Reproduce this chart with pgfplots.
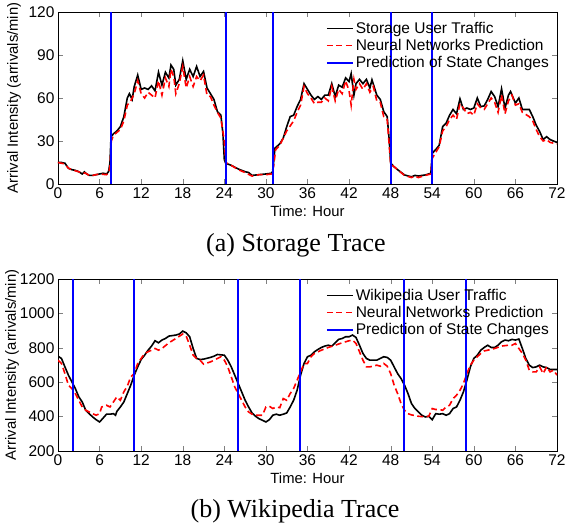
\documentclass[border=0pt]{standalone}
\usepackage{fontspec}
\setmainfont{Liberation Sans}
\newfontfamily\capfont{Liberation Serif}
\usepackage{pgfplots}
\pgfplotsset{compat=1.18}
\newcommand{\sfs}{\fontsize{15.5}{17}\selectfont}
\newcommand{\lfs}{\fontsize{14.8}{17}\selectfont}
\pgfplotsset{
  myax/.style={
    scale only axis, width=499pt, height=172pt,
    xmin=0, xmax=72, xtick={0,6,...,72},
    tick align=inside, tick pos=both,
    major tick length=5pt,
    axis line style={line width=0.9pt},
    tick label style={font=\sfs},
    label style={font=\lfs},
    unbounded coords=jump,
    /pgf/number format/assume math mode=true,
    /pgf/number format/1000 sep={},
    xlabel={Time: Hour},
    ylabel={Arrival Intensity (arrivals/min)},
    xlabel style={at={(axis description cs:0.5,-0.16)}, anchor=center},
    legend cell align=left,
    legend style={draw=none, fill=none, font=\sfs, at={(axis description cs:0.99,0.96)}, anchor=north east, row sep=0.5pt, inner sep=1pt},
    legend image code/.code={\draw[#1] (0pt,0pt) -- (26pt,0pt);},
  },
  myblk/.style={draw=black, line width=1.6pt},
  myrd/.style={draw=red, line width=1.6pt, dash pattern=on 6pt off 3.5pt},
  mybl/.style={draw=blue, line width=2pt},
}
\begin{document}
\begin{tikzpicture}
\useasboundingbox (0,0) rectangle (566pt,-529pt);
\begin{axis}[myax, at={(58pt,-184pt)}, anchor=south west,
  ymin=0, ymax=120, ytick={0,30,...,120},
  ylabel style={at={(axis description cs:-0.088,0.5)}, anchor=center}]
\addplot[myblk] coordinates {
(0,15) (0.5,15) (1,14.5) (1.5,11) (2,10) (2.5,9.5) (3,8.6) (3.5,7) (3.8,8.5) (4,7.5) (4.5,6) (5,6) (5.5,6.5) (6,7) (6.5,7.5) (7,7) (7.3,8.6) (7.5,15) (7.65,33) (8,35) (8.5,37) (9,40) (9.5,47) (10,60) (10.3,63) (10.7,59) (11,68) (11.5,76) (12,66) (12.5,67) (13,66) (13.5,68.5) (14,65) (14.5,78) (15,69) (15.5,78) (16,74) (16.3,83) (16.7,80) (17,69) (17.5,73) (18,86) (18.5,73) (19,80) (19.5,75) (20,82) (20.5,75) (21,78.5) (21.5,67) (22,63) (22.5,59) (23,50.5) (23.5,48) (23.8,35) (24,17) (24.2,14.5) (25,13) (26,10.5) (26.5,9.5) (27,8.6) (27.5,8) (28,6) (29,6.5) (30,7) (30.8,7.5) (31.0,9) (31.3,25) (32,28) (32.5,32) (33,40) (33.5,47) (34,48) (34.5,54) (35,59) (35.5,70) (36,66) (36.5,62) (37,59) (37.5,61) (38,59) (38.5,62) (39,62) (39.5,70) (40,61) (40.5,69) (41,67.5) (41.5,74) (42,71.5) (42.3,77) (42.7,62) (43,70) (43.5,73) (44,70) (44.5,73) (45,67) (45.3,72.7) (46,62) (46.5,59) (47,50.5) (47.5,47) (47.8,30) (48,14.5) (48.5,12) (49,10) (50,6.3) (51,5) (51.5,6) (52,5.6) (53,6.3) (53.8,7.5) (54,21.5) (54.5,24) (55,27) (55.5,40) (56,42.4) (56.5,48) (57,52) (57.5,49) (58,59.4) (58.5,52) (59,53) (59.5,52) (60,53) (60.5,60) (61,54) (61.5,54.5) (62,59) (62.5,64.5) (63,61) (63.5,54) (64,66.4) (64.5,53) (65,62) (65.3,64.5) (66,56.4) (66.5,60) (67,52) (68,52) (68.5,47) (69,41) (69.5,36.6) (70,31) (70.5,33) (71,31) (72,29)};
\addlegendentry{Storage User Traffic}
\addplot[myrd] coordinates {
(0,15) (1,14) (1.5,11) (2,10) (3,8.5) (4,7.5) (4.5,6) (5,6) (6,7) (7,6.5) (7.3,8) (7.5,12) (7.7,30) (8,34) (9,38) (9.5,44) (10,55) (10.5,58) (11,63) (11.5,72) (12,63) (12.5,60) (13,64) (13.5,62) (14,60) (14.5,72) (15,62) (15.5,74) (16,68) (16.3,80) (16.7,75) (17,63) (17.5,70) (18,82) (18.5,67) (19,75) (19.5,68) (20,75) (20.5,72) (21,76) (21.5,62) (22,61) (22.5,55) (23,50) (23.5,46) (24,30) (24.2,15) (25,13) (26,10) (27,8) (28,5.5) (29,6.5) (30,6.5) (30.8,7) (31.1,12) (31.4,24) (32,27) (33,37) (34,44) (34.5,50) (35,55) (35.5,68) (36,63) (36.5,60) (37,56) (37.5,57) (38,57) (38.5,60) (39,58) (39.5,68) (40,58) (40.5,66) (41,63) (41.5,72) (42,65) (42.3,55) (42.7,73) (43,66) (43.5,70) (44,66) (44.5,70) (45,64) (45.5,68) (46,58) (46.5,57) (47,47) (47.5,45) (48,14) (48.5,12) (49,10) (50,6) (51,4.5) (51.5,5.5) (52,4.5) (53,6) (53.8,7) (54,18) (54.5,22) (55,26) (55.5,37) (56,40) (56.5,45) (57,48) (57.5,45) (58,56) (58.5,53) (59,49) (59.5,50) (60,48) (60.5,56) (61,53) (61.5,52) (62,56) (62.5,60) (63,57) (63.5,50) (64,62) (64.5,49) (65,58) (65.5,62) (66,55) (66.5,56) (67,50) (68,47) (68.5,44) (69,38) (69.5,33) (70,30) (70.5,31) (71,29) (72,28)};
\addlegendentry{Neural Networks Prediction}
\addplot[mybl] coordinates {(7.6,0) (7.6,120) (7.6,nan) (24.2,0) (24.2,120) (24.2,nan) (31.0,0) (31.0,120) (31.0,nan) (48.1,0) (48.1,120) (48.1,nan) (53.9,0) (53.9,120)};
\addlegendentry{Prediction of State Changes}
\end{axis}
\begin{axis}[myax, at={(58pt,-451pt)}, anchor=south west,
  ymin=200, ymax=1200, ytick={200,400,...,1200},
  ylabel style={at={(axis description cs:-0.092,0.5)}, anchor=center}]
\addplot[myblk] coordinates {
(0,751) (0.5,738) (1,689) (1.5,641) (2,602) (2.5,563) (3,515) (3.5,485) (4,437) (4.5,417) (5,398) (5.5,382) (6,369) (6.3,382) (7,414) (7.5,414) (8,417) (8.3,408) (8.5,431) (9,456) (9.5,485) (10,534) (10.5,583) (11,641) (11.5,689) (12,732) (12.5,757) (13,786) (13.5,810) (14,841) (14.5,829) (15,845) (15.5,854) (16,868) (17,874) (17.5,880) (18,897) (18.5,887) (19,864) (19.5,796) (20,738) (20.5,732) (21,734) (22,744) (22.5,751) (23,761) (24,757) (24.5,728) (25,689) (25.5,641) (26,592) (26.5,544) (27,495) (27.5,456) (28,421) (28.5,402) (29,388) (30,369) (30.5,382) (31,408) (31.5,414) (32,408) (32.5,414) (33,421) (33.5,456) (34,495) (34.5,553) (35,641) (35.5,709) (36,748) (36.5,757) (37,777) (37.5,790) (38,802) (38.5,810) (39,815) (39.5,810) (40,829) (40.5,849) (41,854) (41.5,864) (42,864) (42.5,874) (43,860) (43.5,815) (44,767) (44.5,738) (45,728) (46,728) (46.5,738) (47,748) (47.5,744) (48,728) (48.5,689) (49,650) (49.5,621) (50,583) (50.5,534) (51,476) (51.5,447) (52,427) (52.5,408) (53,398) (53.5,402) (54,382) (54.5,417) (55,414) (55.5,417) (56,408) (56.5,417) (57,447) (57.5,456) (58,495) (58.5,544) (59,612) (59.5,689) (60,738) (60.5,757) (61,786) (61.5,802) (62,815) (62.5,802) (63,802) (63.5,815) (64,835) (64.5,845) (65,841) (65.5,849) (66,845) (66.5,851) (67,796) (67.5,738) (68,699) (68.5,685) (69,689) (69.5,699) (70,689) (70.5,685) (71,674) (72,674)};
\addlegendentry{Wikipedia User Traffic}
\addplot[myrd] coordinates {
(0,728) (0.5,709) (1,650) (1.5,583) (2,563) (2.5,534) (3,495) (3.5,456) (4,437) (4.5,427) (5,417) (5.5,408) (6,417) (6.3,456) (7,466) (7.5,456) (8,485) (8.5,515) (9,495) (9.5,544) (10,577) (10.5,631) (11,650) (11.5,709) (12,738) (12.5,767) (13,777) (14,796) (14.5,786) (15,796) (16,829) (17,854) (18,880) (18.5,868) (19,815) (19.5,757) (20,738) (20.5,728) (21,705) (22,718) (23,738) (23.5,748) (24,728) (24.5,689) (25,631) (25.5,573) (26,534) (26.5,495) (27,456) (27.5,427) (28,414) (28.5,408) (29,408) (29.5,408) (30,456) (30.5,460) (31,447) (31.5,456) (32,452) (32.5,505) (33,495) (33.5,534) (34,563) (34.5,612) (35,660) (35.5,709) (36,709) (36.5,748) (37,767) (38,786) (39,802) (40,815) (41,829) (42,841) (42.5,845) (43,825) (43.5,777) (44,728) (44.5,689) (45,689) (46,699) (46.5,693) (47,709) (47.5,693) (48,650) (48.5,583) (49,534) (49.5,476) (50,437) (50.5,417) (51,410) (52,402) (53,398) (53.5,402) (54,447) (54.5,441) (55,441) (55.5,437) (56,456) (56.5,466) (57,505) (57.5,524) (58,553) (58.5,592) (59,650) (59.5,699) (60,728) (60.5,748) (61,767) (61.5,782) (62,786) (63,796) (64,810) (65,815) (65.5,815) (66,825) (66.5,796) (67,767) (67.5,728) (68,670) (68.5,660) (69,660) (69.5,689) (70,650) (70.5,689) (71,660) (71.5,670) (72,641)};
\addlegendentry{Neural Networks Prediction}
\addplot[mybl] coordinates {(2.2,200) (2.2,1200) (2.2,nan) (11,200) (11,1200) (11,nan) (26,200) (26,1200) (26,nan) (34.9,200) (34.9,1200) (34.9,nan) (49.9,200) (49.9,1200) (49.9,nan) (58.9,200) (58.9,1200)};
\addlegendentry{Prediction of State Changes}
\end{axis}
\node[font=\capfont\fontsize{26}{30}\selectfont] at (296pt,-245pt) {(a) Storage Trace};
\node[font=\capfont\fontsize{26}{30}\selectfont] at (295pt,-511pt) {(b) Wikipedia Trace};
\end{tikzpicture}
\end{document}
